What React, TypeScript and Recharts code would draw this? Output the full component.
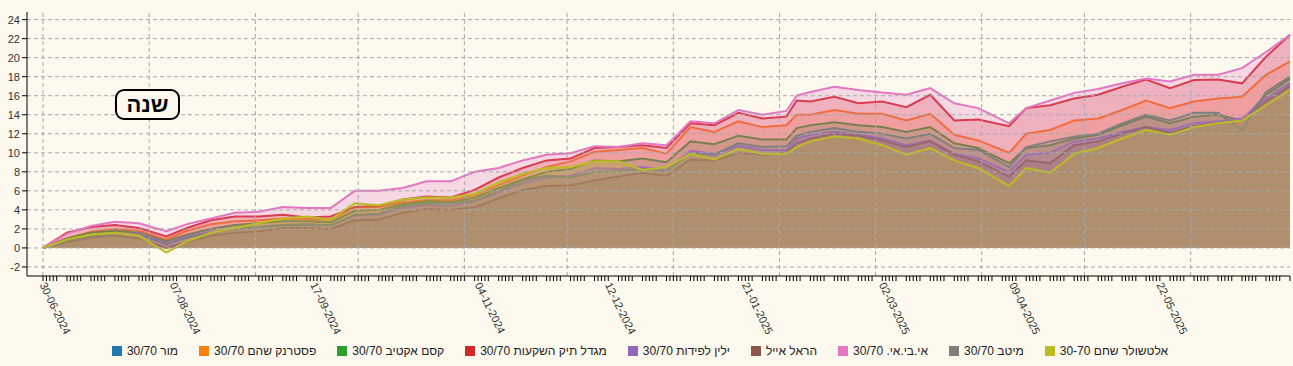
import React from 'react'
import { ComposedChart, Area, XAxis, YAxis, ReferenceLine } from 'recharts'

const BG = '#fdf9ef'
const FONT = '"Liberation Sans", Arial, sans-serif'

// sample dates, dd-mm-yyyy
const DATES = [
  '30-06-2024', '07-07-2024', '14-07-2024', '21-07-2024', '28-07-2024', '05-08-2024', '11-08-2024', '18-08-2024', '25-08-2024', '01-09-2024',
  '08-09-2024', '15-09-2024', '22-09-2024', '29-09-2024', '06-10-2024', '13-10-2024', '20-10-2024', '27-10-2024', '03-11-2024', '10-11-2024',
  '17-11-2024', '24-11-2024', '01-12-2024', '08-12-2024', '15-12-2024', '22-12-2024', '29-12-2024', '05-01-2025', '12-01-2025', '19-01-2025',
  '26-01-2025', '02-02-2025', '05-02-2025', '09-02-2025', '16-02-2025', '23-02-2025', '02-03-2025', '09-03-2025', '16-03-2025', '23-03-2025',
  '30-03-2025', '08-04-2025', '13-04-2025', '20-04-2025', '27-04-2025', '04-05-2025', '11-05-2025', '18-05-2025', '25-05-2025', '01-06-2025',
  '08-06-2025', '15-06-2025', '22-06-2025', '29-06-2025',
]

// cumulative return, %
const MOR: (number | null)[] = [] // no values drawn in the source
const PASTERNAK = [
  0, 1.0, 1.7, 2.0, 1.8, 0.9, 1.8, 2.5, 2.8, 2.9,
  3.1, 3.0, 3.0, 4.3, 4.3, 4.8, 5.0, 5.0, 5.6, 6.6,
  7.6, 8.5, 9.1, 10.1, 10.3, 10.5, 9.9, 12.7, 12.2, 13.3,
  12.7, 12.9, 14.0, 14.0, 14.5, 14.1, 14.1, 13.4, 14.1, 11.9,
  11.3, 10.0, 12.0, 12.4, 13.4, 13.6, 14.5, 15.5, 14.7, 15.4,
  15.7, 15.9, 18.2, 19.6,
]
const KESEM = [
  0, 1.0, 1.6, 1.8, 1.6, 0.7, 1.4, 2.0, 2.4, 2.6,
  2.8, 2.8, 2.7, 3.9, 4.0, 4.6, 4.9, 4.8, 5.3, 6.3,
  7.2, 8.0, 8.3, 9.2, 9.1, 9.4, 9.0, 11.2, 10.9, 11.8,
  11.4, 11.4, 12.6, 12.9, 13.2, 12.9, 12.7, 12.2, 12.7, 11.0,
  10.5, 8.9, 10.5, 10.8, 11.5, 11.9, 12.9, 13.8, 13.1, 13.8,
  14.0, 13.4, 16.1, 17.8,
]
const MIGDAL = [
  0, 1.6, 2.2, 2.4, 2.1, 1.2, 2.1, 2.9, 3.3, 3.3,
  3.5, 3.2, 3.3, 4.3, 4.4, 5.1, 5.4, 5.3, 6.1, 7.4,
  8.4, 9.2, 9.4, 10.5, 10.6, 10.8, 10.5, 13.1, 12.9, 14.2,
  13.6, 13.8, 15.5, 15.4, 15.9, 15.2, 15.4, 14.8, 16.1, 13.4,
  13.5, 12.8, 14.7, 15.0, 15.7, 16.1, 16.95, 17.7, 16.8, 17.65,
  17.7, 17.3, 20.1, 22.4,
]
const YELIN = [
  0, 0.8, 1.3, 1.6, 1.5, 0.5, 1.2, 1.7, 2.0, 2.2,
  2.4, 2.4, 2.4, 3.4, 3.5, 4.2, 4.5, 4.4, 4.9, 5.8,
  6.8, 7.4, 7.6, 8.4, 8.3, 8.5, 8.2, 10.2, 9.9, 10.7,
  10.3, 10.3, 11.5, 11.9, 12.2, 11.9, 11.5, 10.8, 11.3, 9.9,
  9.4, 8.0, 9.8, 10.0, 11.2, 11.5, 12.2, 12.7, 12.4, 13.1,
  13.3, 13.6, 15.7, 17.3,
]
const HAREL = [
  0, 0.6, 1.1, 1.3, 1.0, 0.0, 0.6, 1.3, 1.6, 1.75,
  2.1, 2.1, 2.0, 2.9, 3.0, 3.7, 4.1, 4.0, 4.3, 5.2,
  6.1, 6.5, 6.6, 7.1, 7.5, 7.9, 7.6, 9.3, 9.2, 10.0,
  9.8, 10.0, 11.0, 11.5, 12.0, 11.8, 11.3, 10.6, 11.2, 9.8,
  9.1, 7.5, 9.2, 8.9, 10.8, 11.2, 12.0, 12.7, 12.1, 12.8,
  13.1, 13.4, 15.4, 17.0,
]
const IBI = [
  0, 1.5, 2.3, 2.75, 2.6, 1.75, 2.5, 3.1, 3.7, 3.8,
  4.3, 4.2, 4.2, 6.0, 6.0, 6.3, 7.0, 7.0, 8.0, 8.4,
  9.2, 9.8, 9.95, 10.7, 10.6, 11.0, 10.8, 13.3, 13.1, 14.5,
  14.0, 14.4, 16.0, 16.4, 16.95, 16.6, 16.35, 16.1, 16.8, 15.2,
  14.7, 13.1, 14.7, 15.5, 16.3, 16.7, 17.3, 17.8, 17.5, 18.2,
  18.2, 18.9, 20.6, 22.4,
]
const MEITAV = [
  0, 0.8, 1.3, 1.6, 1.4, 0.4, 1.1, 1.6, 2.0, 2.2,
  2.4, 2.5, 2.4, 3.5, 3.6, 4.4, 4.7, 4.7, 5.0, 6.0,
  7.1, 7.6, 7.4, 8.0, 8.1, 8.3, 8.0, 10.0, 9.8, 11.0,
  10.6, 10.7, 11.8, 12.2, 12.6, 12.2, 12.0, 11.5, 12.0, 10.5,
  10.3, 8.5, 10.6, 11.2, 11.7, 12.0, 13.1, 14.0, 13.4, 14.2,
  14.2, 12.4, 16.4, 18.0,
]
const ALTSHULER = [
  0, 0.9, 1.4, 1.6, 1.3, -0.5, 0.7, 1.6, 2.1, 2.6,
  3.1, 3.3, 3.0, 4.7, 4.5, 5.1, 5.3, 5.3, 5.7, 6.9,
  7.8, 8.4, 8.5, 9.1, 9.1, 8.2, 8.5, 9.9, 9.3, 10.4,
  9.9, 9.9, 10.6, 11.2, 11.7, 11.5, 10.8, 9.8, 10.5, 9.2,
  8.4, 6.5, 8.4, 7.9, 9.9, 10.5, 11.5, 12.4, 11.9, 12.7,
  13.1, 13.4, 15.0, 16.6,
]

const SERIES = [
  { key: 'mor', name: 'מור 30/70', color: '#1f77b4', values: MOR },
  { key: 'pst', name: 'פסטרנק שהם 30/70', color: '#ff7f0e', values: PASTERNAK },
  { key: 'ksm', name: 'קסם אקטיב 30/70', color: '#2ca02c', values: KESEM },
  { key: 'mgd', name: 'מגדל תיק השקעות 30/70', color: '#d62728', values: MIGDAL },
  { key: 'yln', name: 'ילין לפידות 30/70', color: '#9467bd', values: YELIN },
  { key: 'hrl', name: 'הראל אייל', color: '#8c564b', values: HAREL },
  { key: 'ibi', name: 'אי.בי.אי. 30/70', color: '#e377c2', values: IBI },
  { key: 'mtv', name: 'מיטב 30/70', color: '#7f7f7f', values: MEITAV },
  { key: 'alt', name: 'אלטשולר שחם 30-70', color: '#bcbd22', values: ALTSHULER },
]

const X_LABELS = ['30-06-2024', '07-08-2024', '17-09-2024', '04-11-2024', '12-12-2024', '21-01-2025', '02-03-2025', '09-04-2025', '22-05-2025']
const MONTH_ENDS = ['30-06-2024', '31-07-2024', '31-08-2024', '30-09-2024', '31-10-2024', '30-11-2024', '31-12-2024', '31-01-2025', '28-02-2025', '31-03-2025', '30-04-2025', '31-05-2025']
const Y_TICKS = [-2, 0, 2, 4, 6, 8, 10, 12, 14, 16, 18, 20, 22, 24]

const START = Date.UTC(2024, 5, 30)
const toDay = (s: string) => {
  const [d, m, y] = s.split('-').map(Number)
  return Math.round((Date.UTC(y, m - 1, d) - START) / 86400000)
}
const LAST_DAY = toDay('29-06-2025')

// one small tick per trading day (Sun-Thu)
const TRADING_DAYS: number[] = []
for (let d = 0; d <= LAST_DAY; d++) if (d % 7 <= 4) TRADING_DAYS.push(d)

const LABEL_BY_DAY: Record<number, string> = {}
X_LABELS.forEach((s) => { LABEL_BY_DAY[toDay(s)] = s })

const data = DATES.map((s, i) => {
  const row: Record<string, number | null> = { day: toDay(s) }
  SERIES.forEach((sr) => { row[sr.key] = sr.values[i] ?? null })
  return row
})

const DateTick = (props: any) => {
  const { x, y, payload } = props
  const label = LABEL_BY_DAY[payload.value]
  if (!label) return null
  return (
    <text x={x} y={y} dy={4} transform={`rotate(64 ${x} ${y})`} textAnchor="start"
      fontSize={11} fontFamily={FONT} fill="#333">
      {label}
    </text>
  )
}

const grid = { stroke: '#a8a8a8', strokeDasharray: '4 3', strokeWidth: 1 }

export default function App() {
  return (
    <div style={{ position: 'absolute', left: 0, top: 0, width: 1293, height: 366, background: BG, fontFamily: FONT }}>
      <ComposedChart width={1293} height={366} data={data} margin={{ top: 12, right: 3, bottom: 0, left: 0 }}>
        <XAxis dataKey="day" type="number" domain={[0, LAST_DAY]} ticks={TRADING_DAYS} interval={0}
          tick={<DateTick />} tickSize={5} height={90} padding={{ left: 16, right: 0 }}
          axisLine={{ stroke: '#000' }} tickLine={{ stroke: '#000' }} />
        <YAxis type="number" domain={[-2.95, 24.8]} ticks={Y_TICKS} width={27} tickSize={5}
          tick={{ fontSize: 11, fill: '#333', fontFamily: FONT }}
          axisLine={{ stroke: '#000' }} tickLine={{ stroke: '#000' }} />
        {SERIES.map((s) => (
          <Area key={s.key} type="linear" dataKey={s.key} name={s.name} stroke={s.color} strokeWidth={2}
            fill={s.color} fillOpacity={0.25} baseValue={0} dot={false} activeDot={false}
            isAnimationActive={false} />
        ))}
        {Y_TICKS.map((v) => <ReferenceLine key={'h' + v} y={v} {...grid} />)}
        {MONTH_ENDS.map((s) => <ReferenceLine key={'v' + s} x={toDay(s)} {...grid} />)}
      </ComposedChart>

      <div style={{
        position: 'absolute', left: 115, top: 89, width: 61, height: 27, border: '2.5px solid #000',
        borderRadius: 9, background: BG, display: 'flex', alignItems: 'center', justifyContent: 'center',
        fontWeight: 'bold', fontSize: 22, direction: 'rtl',
      }}>שנה</div>

      <div style={{
        position: 'absolute', left: 0, top: 344, width: 1280, display: 'flex', justifyContent: 'center',
        gap: 21, fontSize: 12, color: '#222',
      }}>
        {SERIES.map((s) => (
          <div key={s.key} style={{ display: 'flex', alignItems: 'center', gap: 5 }}>
            <span style={{ width: 10, height: 10, background: s.color, display: 'inline-block' }} />
            <span dir="rtl" style={{ unicodeBidi: 'isolate' }}>{s.name}</span>
          </div>
        ))}
      </div>
    </div>
  )
}
